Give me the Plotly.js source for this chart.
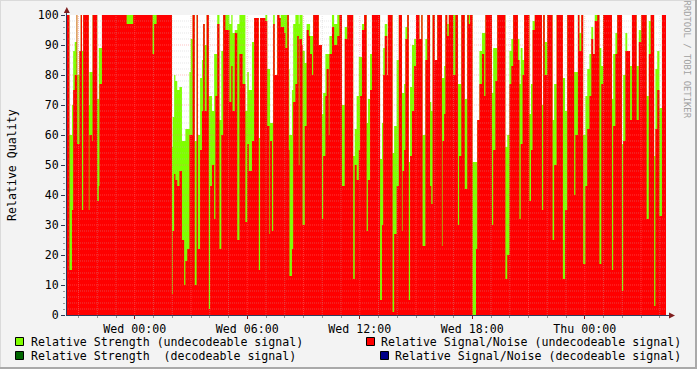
<!DOCTYPE html>
<html><head><meta charset="utf-8">
<script src="https://cdn.plot.ly/plotly-3.0.1.min.js"></script>
<style>html,body{margin:0;padding:0;background:#F3F3F3;} #chart{width:697px;height:369px;}</style>
</head><body><div id="chart"></div>
<script>
// ---- data: minutes since Tue 20:20, values held until next sample ----
const times = [
  0,11,19,23,28,34,36,43,47,51,
  55,73,75,83,85,100,105,107,115,194,
  215,277,282,290,339,341,346,350,356,363,
  371,378,382,388,395,399,405,412,418,422,
  429,435,439,444,450,457,461,467,474,478,
  484,491,497,503,510,523,529,533,540,548,
  555,565,574,580,585,595,602,617,621,638,
  644,651,653,659,663,668,676,683,687,698,
  702,708,713,715,723,727,734,740,745,747,
  755,757,764,770,777,781,787,791,809,819,
  823,830,834,841,843,851,858,868,875,883,
  892,900,919,924,930,937,941,947,954,962,
  966,973,979,1005,1011,1015,1020,1028,1030,1045,
  1050,1058,1065,1075,1077,1082,1086,1092,1097,1101,
  1107,1114,1120,1131,1137,1141,1150,1156,1165,1169,
  1173,1180,1188,1203,1205,1210,1214,1220,1225,1239,
  1246,1254,1258,1265,1276,1284,1289,1293,1301,1312,
  1316,1323,1331,1338,1342,1363,1367,1374,1380,1406,
  1412,1419,1425,1431,1446,1451,1455,1461,1466,1483,
  1488,1493,1500,1523,1527,1532,1540,1557,1562,1570,
  1590,1597,1604,1626,1630,1638,1643,1649,1655,1662,
  1668,1675,1681,1687,1692,1700,1707,1713,1719,1747,
  1751,1758,1764,1779,1783,1790,1796,1805,1811,1826,
  1833,1841,1858,1865,1871,1882,1886,1892,1899,1907
];
const endTime = 1920;

const snrUndecodeable = [
  100,15,35,75,80,100,57,88,100,35,
  100,35,60,58,100,38,43,77,100,97,
  100,87,97,100,7,28,47,45,43,48,
  25,10,18,22,60,60,100,10,100,22,
  55,68,97,68,100,2,43,50,32,73,
  97,22,60,100,95,71,83,68,94,25,
  87,77,31,57,48,58,99,15,99,98,
  63,27,58,28,97,80,100,99,96,94,
  89,100,55,13,22,71,77,93,50,92,
  90,30,63,95,93,87,80,100,90,32,
  53,73,82,60,87,96,90,93,100,43,
  92,100,12,50,45,55,73,95,100,28,
  45,75,100,5,30,80,93,80,100,1,
  27,43,100,28,48,55,92,100,5,53,
  68,83,100,92,100,23,85,100,43,37,
  100,85,100,23,58,67,100,93,100,80,
  100,30,53,100,42,100,97,100,0,22,
  65,77,87,73,100,30,55,78,100,12,
  20,77,83,100,85,32,57,80,100,38,
  55,95,100,35,100,80,100,25,50,100,
  12,35,100,40,60,100,88,100,17,43,
  62,73,92,87,98,100,17,77,100,15,
  63,87,100,8,58,88,88,65,100,65,
  91,100,32,87,100,3,62,75,33,100
];

const strengthUndecodeable = [
  100,60,70,88,91,100,80,88,100,88,
  100,70,81,81,100,72,89,89,100,100,
  100,100,100,100,56,66,80,78,75,76,
  58,58,62,62,81,92,100,58,100,60,
  79,85,97,90,100,73,73,68,87,87,
  100,65,88,100,100,97,100,94,95,97,
  100,100,68,81,75,91,99,59,99,100,
  82,82,64,64,100,80,100,99,100,100,
  100,100,82,60,75,97,100,100,97,100,
  100,88,84,97,97,93,93,100,90,67,
  74,87,87,87,93,100,97,100,100,70,
  96,100,53,62,73,86,86,97,100,64,
  72,87,100,52,64,89,97,80,100,54,
  63,85,100,74,74,77,96,100,51,76,
  90,92,100,92,100,60,92,100,71,68,
  100,85,100,79,79,83,100,97,100,100,
  100,77,77,100,72,100,100,100,51,51,
  65,88,94,94,100,74,89,89,100,56,
  60,88,92,100,92,77,89,85,100,67,
  77,98,100,70,100,91,100,65,77,100,
  79,68,100,81,81,100,94,100,60,73,
  82,87,96,87,100,100,89,83,100,72,
  87,94,100,57,80,94,88,83,100,83,
  95,100,73,98,100,53,82,88,69,100
];

const tickTimes = [220, 580, 940, 1300, 1660];
const tickLabels = ['Wed 00:00', 'Wed 06:00', 'Wed 12:00', 'Wed 18:00', 'Thu 00:00'];
const legendLabels = [
  'Relative Strength (undecodeable signal)',
  'Relative Signal/Noise (undecodeable signal)',
  'Relative Strength \u00A0(decodeable signal)',
  'Relative Signal/Noise (decodeable signal)'
];

// ---- styling ----
const C_STR_U = '#80FF00', C_SNR_U = '#FF0000', C_STR_D = '#006600', C_SNR_D = '#000088';
const AXIS = '#2F3B5C', ARROW = '#7F1F1F';
const FONT = 'DejaVu Sans Mono';
const W = 697, H = 369, L = 66, R = 31, T = 15, B = 54;
const px = x => (x - L) / (W - L - R);
const py = y => (H - B - y) / (H - T - B);

function stepTrace(vals, color) {
  return {
    x: times.concat([endTime]),
    y: vals.concat([vals[vals.length - 1]]),
    type: 'scatter', mode: 'lines',
    line: {shape: 'hv', width: 0, color: color},
    fill: 'tozeroy', fillcolor: color,
    hoverinfo: 'skip', showlegend: false
  };
}
const traces = [stepTrace(strengthUndecodeable, C_STR_U), stepTrace(snrUndecodeable, C_SNR_U)];

const GRID_MINOR = 'rgba(185,185,185,0.35)', GRID_MAJOR = 'rgba(255,120,120,0.45)';
const shapes = [];
// grid above data (rrdtool style)
for (let v = 2; v < 100; v += 2) {
  const major = v % 10 === 0;
  shapes.push({type: 'line', xref: 'paper', yref: 'y', x0: 0, x1: 1, y0: v, y1: v, layer: 'above',
    line: {color: major ? GRID_MAJOR : GRID_MINOR, width: 1, dash: '1px,1px'}});
}
for (let t = 40; t < endTime; t += 60) {
  const major = (((t - 220) / 60) % 3 + 3) % 3 === 0;
  shapes.push({type: 'line', xref: 'x', yref: 'paper', x0: t, x1: t, y0: 0, y1: 1, layer: 'above',
    line: {color: major ? GRID_MAJOR : GRID_MINOR, width: 1, dash: '1px,1px'}});
}
// axis extensions and arrows
shapes.push({type: 'line', xref: 'paper', yref: 'paper', x0: px(66.5), x1: px(66.5), y0: py(315), y1: py(12), layer: 'above', line: {color: AXIS, width: 1}});
shapes.push({type: 'line', xref: 'paper', yref: 'paper', x0: px(66), x1: px(670), y0: py(315.5), y1: py(315.5), layer: 'above', line: {color: AXIS, width: 1}});
shapes.push({type: 'path', xref: 'paper', yref: 'paper', layer: 'above',
  path: `M ${px(66.8)},${py(7)} L ${px(63.8)},${py(13)} L ${px(69.8)},${py(13)} Z`, fillcolor: ARROW, line: {width: 0}});
shapes.push({type: 'path', xref: 'paper', yref: 'paper', layer: 'above',
  path: `M ${px(675)},${py(315.5)} L ${px(669)},${py(312.5)} L ${px(669)},${py(318.5)} Z`, fillcolor: ARROW, line: {width: 0}});
// frame shading
shapes.push({type: 'rect', xref: 'paper', yref: 'paper', x0: px(695), x1: px(697), y0: py(0), y1: py(369), fillcolor: '#A9A9A9', line: {width: 0}});
shapes.push({type: 'rect', xref: 'paper', yref: 'paper', x0: px(0), x1: px(697), y0: py(367), y1: py(369), fillcolor: '#A9A9A9', line: {width: 0}});
shapes.push({type: 'rect', xref: 'paper', yref: 'paper', x0: px(0), x1: px(1), y0: py(0), y1: py(367), fillcolor: '#DADADA', line: {width: 0}});
shapes.push({type: 'rect', xref: 'paper', yref: 'paper', x0: px(0), x1: px(695), y0: py(0), y1: py(1), fillcolor: '#DADADA', line: {width: 0}});

// legend
const legendItems = [
  {box: [15, 337], text: [30, 341.5], color: C_STR_U, label: legendLabels[0]},
  {box: [366, 337], text: [380, 341.5], color: C_SNR_U, label: legendLabels[1]},
  {box: [15, 351], text: [30, 355.5], color: C_STR_D, label: legendLabels[2]},
  {box: [380, 351], text: [394, 355.5], color: C_SNR_D, label: legendLabels[3]}
];
const annotations = [];
legendItems.forEach(it => {
  shapes.push({type: 'rect', xref: 'paper', yref: 'paper', x0: px(it.box[0] + 0.5), x1: px(it.box[0] + 8.5),
    y0: py(it.box[1] + 0.5), y1: py(it.box[1] + 8.5), fillcolor: it.color, line: {color: '#000', width: 1}});
  annotations.push({xref: 'paper', yref: 'paper', x: px(it.text[0]), y: py(it.text[1]), xanchor: 'left', yanchor: 'middle',
    text: it.label, showarrow: false, borderpad: 0, font: {family: FONT, size: 11.6, color: '#000'}});
});
annotations.push({xref: 'paper', yref: 'paper', x: px(12), y: py(165), textangle: -90, xanchor: 'center', yanchor: 'middle',
  text: 'Relative Quality', showarrow: false, borderpad: 0, font: {family: FONT, size: 11.6, color: '#000'}});
annotations.push({xref: 'paper', yref: 'paper', x: px(686.5), y: py(59), textangle: 90, xanchor: 'center', yanchor: 'middle',
  text: 'RRDTOOL / TOBI OETIKER', showarrow: false, borderpad: 0, font: {family: FONT, size: 8.9, color: '#A0A0A0'}});

const layout = {
  width: W, height: H,
  margin: {l: L, r: R, t: T, b: B, pad: 0},
  paper_bgcolor: '#F3F3F3', plot_bgcolor: '#FFFFFF',
  showlegend: false,
  font: {family: FONT, size: 11.6, color: '#000'},
  xaxis: {
    range: [0, endTime], fixedrange: true,
    tickmode: 'array', tickvals: tickTimes, ticktext: tickLabels,
    ticks: 'outside', ticklen: 3, tickcolor: ARROW,
    minor: {tickmode: 'linear', tick0: 40, dtick: 60, ticks: 'outside', ticklen: 2, tickcolor: '#999', showgrid: false},
    showgrid: false, zeroline: false, showline: false,
    tickfont: {family: FONT, size: 11.6, color: '#000'}
  },
  yaxis: {
    range: [0, 100], fixedrange: true,
    tickmode: 'linear', tick0: 0, dtick: 10,
    ticks: 'outside', ticklen: 4, tickcolor: AXIS,
    minor: {tickmode: 'linear', tick0: 0, dtick: 2, ticks: 'outside', ticklen: 2, tickcolor: '#999', showgrid: false},
    showgrid: false, zeroline: false, showline: false,
    tickfont: {family: FONT, size: 11.6, color: '#000'}
  },
  shapes: shapes,
  annotations: annotations
};

Plotly.newPlot('chart', traces, layout, {staticPlot: true, displayModeBar: false});
</script>
</body></html>
